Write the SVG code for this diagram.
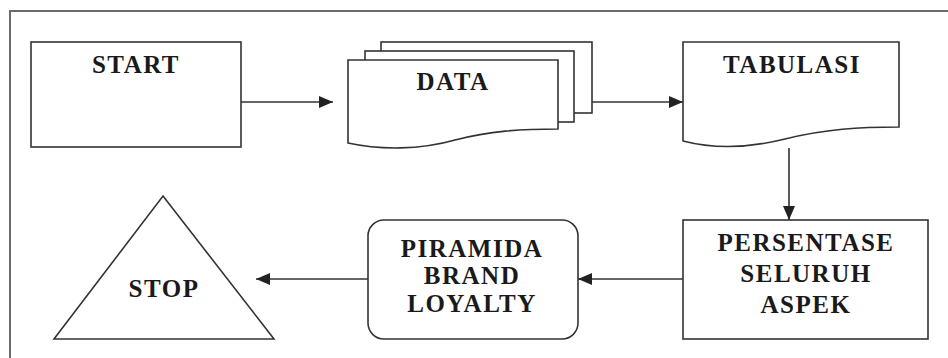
<svg xmlns="http://www.w3.org/2000/svg" width="948" height="358" viewBox="0 0 948 358">
  <defs>
    <marker id="arrow" markerWidth="14" markerHeight="12" refX="14" refY="6" orient="auto" markerUnits="userSpaceOnUse">
      <path d="M0,0 L14,6 L0,12 Z" fill="#222"/>
    </marker>
    <style>
      .shape { fill: #fff; stroke: #333; stroke-width: 1.6; }
      .frame { fill: none; stroke: #6a6a6a; stroke-width: 2; }
      .conn { fill: none; stroke: #333; stroke-width: 1.6; marker-end: url(#arrow); }
      .label { font-family: "Liberation Serif", "Times New Roman", serif; font-weight: bold; font-size: 25px; letter-spacing: 1.5px; fill: #1a1a1a; text-anchor: middle; }
    </style>
  </defs>

  <rect width="948" height="358" fill="#fff"/>

  <!-- outer frame (top and left edges) -->
  <path class="frame" d="M10,358 L10,11 L948,11"/>

  <g id="start">
    <rect class="shape" x="31" y="42" width="210" height="105"/>
    <text class="label" x="136" y="73">START</text>
  </g>

  <g id="data">
    <rect class="shape" x="381" y="42" width="211" height="71"/>
    <rect class="shape" x="365" y="51" width="209" height="71"/>
    <path class="shape" d="M348,60 L558,60 L558,129 C520,129 490,131 455,140 C420,150 380,150 348,143 Z"/>
    <text class="label" x="453" y="90">DATA</text>
  </g>

  <g id="tabulasi">
    <path class="shape" d="M683,42 L899,42 L899,127 C860,127 825,129 785,139 C745,149 710,148 683,141 Z"/>
    <text class="label" x="792" y="73">TABULASI</text>
  </g>

  <g id="persentase">
    <rect class="shape" x="683" y="220" width="245" height="119"/>
    <text class="label" x="806" y="251">PERSENTASE</text>
    <text class="label" x="806" y="282">SELURUH</text>
    <text class="label" x="806" y="313">ASPEK</text>
  </g>

  <g id="piramida">
    <rect class="shape" x="368" y="220" width="210" height="119" rx="16" ry="16"/>
    <text class="label" x="472" y="257">PIRAMIDA</text>
    <text class="label" x="472" y="284">BRAND</text>
    <text class="label" x="472" y="312">LOYALTY</text>
  </g>

  <g id="stop">
    <path class="shape" d="M163,196 L274,339 L54,339 Z"/>
    <text class="label" x="164" y="297">STOP</text>
  </g>

  <g id="connectors">
    <line class="conn" x1="241" y1="102" x2="333" y2="102"/>
    <line class="conn" x1="592" y1="102" x2="683" y2="102"/>
    <line class="conn" x1="789" y1="148" x2="789" y2="220"/>
    <line class="conn" x1="683" y1="279" x2="578" y2="279"/>
    <line class="conn" x1="368" y1="279" x2="256" y2="279"/>
  </g>
</svg>
